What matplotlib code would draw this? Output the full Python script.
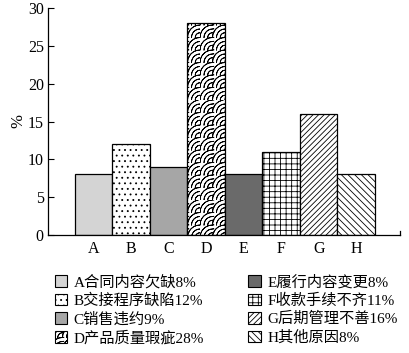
import numpy as np
import matplotlib
matplotlib.use('Agg')
import matplotlib.pyplot as plt
import matplotlib.hatch as mhatch
from matplotlib.path import Path
from matplotlib.patches import Patch

plt.rcParams['font.family'] = ['Liberation Serif', 'Noto Sans CJK SC']
plt.rcParams['hatch.linewidth'] = 0.6


# trama "ondas" para la barra D (usa el caracter '*')
# cada arco se recorre ida y vuelta para que el relleno no tenga area
class OndasHatch(mhatch.HatchPatternBase):
    arcos = (1.0, 0.68, 0.38)
    puntos = 7

    def __init__(self, hatch, density):
        self.n = int(round(hatch.count('*') * density * 4 / 3))
        self.num_vertices = self.n * self.n * len(self.arcos) * self.puntos * 2

    def set_vertices_and_codes(self, vertices, codes):
        t = np.linspace(np.pi, np.pi / 2, self.puntos)
        t = np.concatenate([t, t[::-1]])
        m = len(t)
        paso = 1.0 / self.n
        k = 0
        for i in range(self.n):
            for j in range(self.n):
                for r in self.arcos:
                    vertices[k:k + m, 0] = (i + 1 + r * np.cos(t)) * paso
                    vertices[k:k + m, 1] = (j + r * np.sin(t)) * paso
                    codes[k] = Path.MOVETO
                    codes[k + 1:k + m] = Path.LINETO
                    k += m


mhatch._hatch_types = [h for h in mhatch._hatch_types if h is not mhatch.Stars] + [OndasHatch]

# datos
categorias = ['A', 'B', 'C', 'D', 'E', 'F', 'G', 'H']
valores = [8, 12, 9, 28, 8, 11, 16, 8]
etiquetas = ['A合同内容欠缺8%', 'B交接程序缺陷12%', 'C销售违约9%', 'D产品质量瑕疵28%',
             'E履行内容变更8%', 'F收款手续不齐11%', 'G后期管理不善16%', 'H其他原因8%']

colores = ['#d4d4d4', 'white', '#a6a6a6', 'white', '#6a6a6a', 'white', 'white', 'white']
tramas = ['', '...', '', '*', '', '+++', '//////', '\\\\\\\\\\']

fig = plt.figure(figsize=(4.09, 3.53), dpi=100)
ax = fig.add_axes([48 / 409, 118 / 353, 352 / 409, 227 / 353])

x = list(range(len(categorias)))
for i in x:
    ax.bar(i, valores[i], width=1.0, color=colores[i], edgecolor='black',
           linewidth=0.9, hatch=tramas[i])

ax.set_xlim(-1.22, 8.17)
ax.set_ylim(0, 30)
ax.set_yticks([0, 5, 10, 15, 20, 25, 30])
ax.set_xticks(x)
ax.set_xticklabels(categorias)
ax.tick_params(axis='x', length=0, labelsize=11.5, pad=4)
ax.tick_params(axis='y', direction='in', length=4, labelsize=11.5, pad=3)
ax.set_ylabel('%', fontsize=12, labelpad=1)

ax.spines['top'].set_visible(False)
ax.spines['right'].set_bounds(0, 0.5)
for s in ax.spines.values():
    s.set_linewidth(0.9)

handles = [Patch(facecolor=colores[i], edgecolor='black', linewidth=0.8,
                 hatch=tramas[i], label=etiquetas[i]) for i in x]
fig.legend(handles=handles, ncol=2, loc='upper left',
           bbox_to_anchor=(44 / 409, 1 - 264 / 353), frameon=False,
           fontsize=11, handlelength=0.8, handleheight=0.8,
           handletextpad=0.45, columnspacing=2.9, labelspacing=0.28,
           borderpad=0.2)

fig.savefig('out.png', dpi=100)
